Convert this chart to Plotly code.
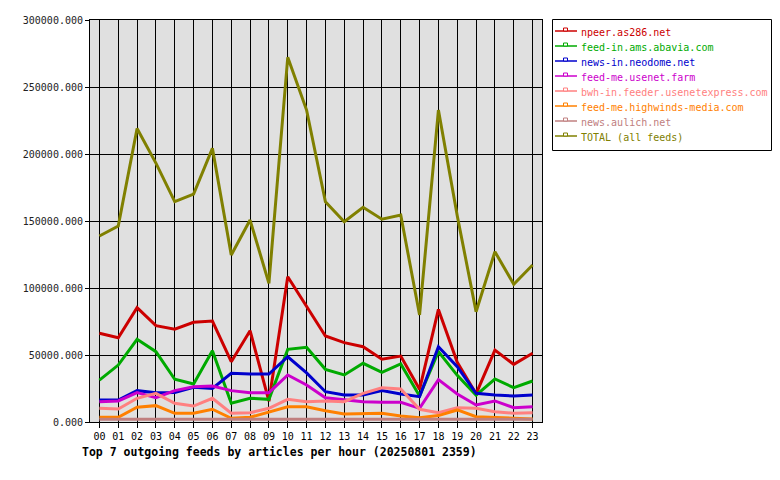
import plotly.graph_objects as go

hours = list(range(24))
hour_labels = [f"{h:02d}" for h in hours]

feed_names = [
    "npeer.as286.net",
    "feed-in.ams.abavia.com",
    "news-in.neodome.net",
    "feed-me.usenet.farm",
    "bwh-in.feeder.usenetexpress.com",
    "feed-me.highwinds-media.com",
    "news.aulich.net",
    "TOTAL (all feeds)",
]
feed_colors = ["#cc0000", "#00aa00", "#0000cc", "#cc00cc", "#ff8080", "#ff8000", "#c08080", "#808000"]

npeer = [66200, 62900, 85300, 71900, 69200, 74400, 75300, 45000, 68100, 15500, 108400, 86000,
         64200, 59200, 56200, 46800, 49200, 24400, 84000, 44500, 21000, 53700, 43000, 51300]
abavia = [31300, 42500, 61700, 52500, 31900, 28400, 53200, 14000, 17700, 16900, 54200, 55700,
          39300, 35100, 43800, 37100, 43300, 19400, 52500, 34800, 20100, 32100, 25600, 30600]
neodome = [16400, 16400, 23400, 21900, 22000, 25900, 25100, 36300, 35800, 35800, 48700, 36600,
           22600, 20100, 20100, 23400, 20900, 18900, 56200, 41300, 21400, 20100, 19400, 20100]
usenetfarm = [15200, 15700, 21900, 18100, 23400, 26300, 26900, 23400, 21900, 21900, 35100, 27600,
              18100, 16900, 15200, 14700, 14700, 10200, 31600, 20900, 12700, 15700, 10700, 11400]
usenetexpress = [10200, 9700, 17700, 21400, 14000, 11900, 17700, 6500, 6900, 10200, 16900, 15200,
                 15700, 15200, 21400, 25600, 24600, 9500, 7000, 10600, 10200, 7700, 6500, 6900]
highwinds = [3500, 3500, 11000, 12200, 6500, 6500, 9500, 2800, 3500, 7700, 11400, 11400,
             8400, 6000, 6000, 6500, 4500, 3200, 4800, 9000, 4000, 3200, 2800, 2200]
aulich = [2100, 2100, 2200, 2200, 2100, 2100, 2200, 2000, 2000, 2100, 2300, 2200,
          2100, 2100, 2100, 2100, 2100, 2000, 2200, 2200, 2100, 2000, 2000, 2000]
total = [138800, 146300, 219100, 193200, 164400, 170100, 204200, 124600, 150700, 103500, 272200, 232800,
         164400, 149500, 160200, 151300, 154500, 79900, 232800, 154000, 82300, 127100, 102800, 117200]

series = [npeer, abavia, neodome, usenetfarm, usenetexpress, highwinds, aulich, total]

title_text = "Top 7 outgoing feeds by articles per hour (20250801 2359)"
FONT = "DejaVu Sans Mono"

W, H = 780, 480
ML, MR, MT, MB = 90, 238, 20, 58
PW, PH = W - ML - MR, H - MT - MB


def px_x(x):
    return (x - ML) / PW


def px_y(y):
    return (H - MB - y) / PH


fig = go.Figure()
for name, color, vals in zip(feed_names, feed_colors, series):
    fig.add_trace(go.Scatter(
        x=hours, y=vals, mode="lines", name=name,
        line=dict(color=color, width=3), showlegend=False,
    ))

shapes = []
annotations = []
# legend box
shapes.append(dict(type="rect", xref="paper", yref="paper",
                   x0=px_x(552.5), x1=px_x(771.5), y0=px_y(150.5), y1=px_y(19.5),
                   line=dict(color="black", width=1), fillcolor="white", layer="above"))
for i, (name, color) in enumerate(zip(feed_names, feed_colors)):
    ly = 31 + 15 * i
    shapes.append(dict(type="line", xref="paper", yref="paper",
                       x0=px_x(555), x1=px_x(577), y0=px_y(ly), y1=px_y(ly),
                       line=dict(color=color, width=1.5), layer="above"))
    shapes.append(dict(type="rect", xref="paper", yref="paper",
                       x0=px_x(563.5), x1=px_x(567.5), y0=px_y(ly), y1=px_y(ly - 3),
                       line=dict(color=color, width=1), fillcolor="white", layer="above"))
    annotations.append(dict(xref="paper", yref="paper", x=px_x(579), y=px_y(ly + 1.5),
                            xanchor="left", yanchor="middle", showarrow=False, text=name,
                            font=dict(family=FONT, size=10, color=color)))

annotations.append(dict(xref="paper", yref="paper", x=px_x(80), y=px_y(452),
                        xanchor="left", yanchor="middle", showarrow=False,
                        text="<b>" + title_text + "</b>",
                        font=dict(family=FONT, size=11.5, color="black")))

fig.update_layout(
    width=W, height=H,
    margin=dict(l=ML, r=MR, t=MT, b=MB, pad=0),
    paper_bgcolor="white", plot_bgcolor="#e0e0e0",
    showlegend=False,
    font=dict(family=FONT, size=10, color="black"),
    shapes=shapes, annotations=annotations,
    xaxis=dict(range=[-0.5, 23.5], tickmode="array", tickvals=hours, ticktext=hour_labels,
               showgrid=True, gridcolor="black", gridwidth=1, zeroline=False,
               showline=True, linecolor="black", linewidth=1, mirror=True,
               ticks="outside", ticklen=5, tickcolor="black",
               tickfont=dict(family=FONT, size=10, color="black")),
    yaxis=dict(range=[0, 300000], tickmode="linear", tick0=0, dtick=50000, tickformat=".3f",
               showgrid=True, gridcolor="black", gridwidth=1, zeroline=False,
               showline=True, linecolor="black", linewidth=1, mirror=True,
               ticks="outside", ticklen=4, tickcolor="black",
               tickfont=dict(family=FONT, size=10, color="#222222")),
)

fig.write_html("out.html")
